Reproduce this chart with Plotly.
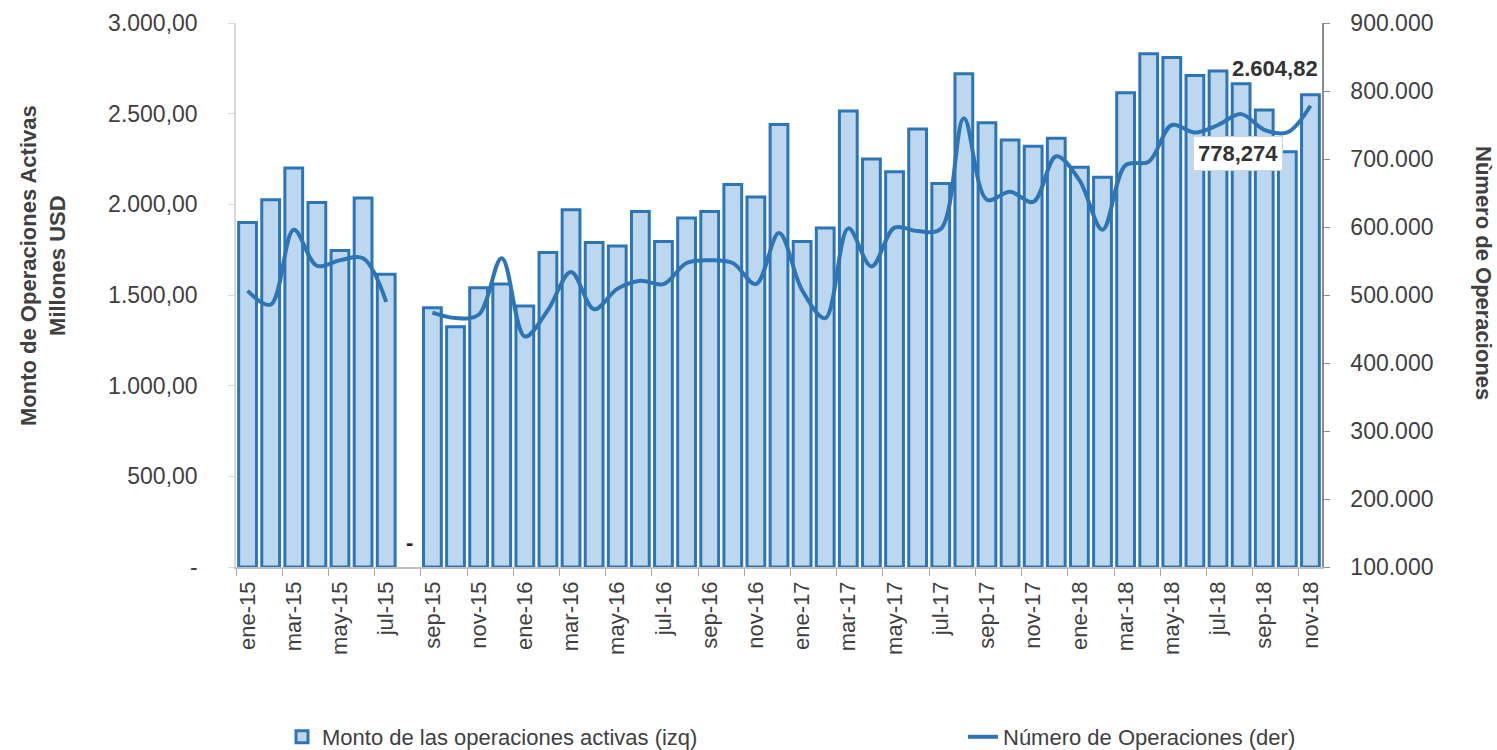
import plotly.graph_objects as go

categories = [
    "ene-15", "feb-15", "mar-15", "abr-15", "may-15", "jun-15", "jul-15", "ago-15",
    "sep-15", "oct-15", "nov-15", "dic-15",
    "ene-16", "feb-16", "mar-16", "abr-16", "may-16", "jun-16", "jul-16", "ago-16",
    "sep-16", "oct-16", "nov-16", "dic-16",
    "ene-17", "feb-17", "mar-17", "abr-17", "may-17", "jun-17", "jul-17", "ago-17",
    "sep-17", "oct-17", "nov-17", "dic-17",
    "ene-18", "feb-18", "mar-18", "abr-18", "may-18", "jun-18", "jul-18", "ago-18",
    "sep-18", "oct-18", "nov-18",
]

monto_millones_usd = [
    1900, 2025, 2200, 2010, 1745, 2035, 1615, 0,
    1430, 1325, 1540, 1560,
    1440, 1735, 1970, 1790, 1770, 1960, 1795, 1925,
    1960, 2110, 2040, 2440,
    1795, 1870, 2515, 2250, 2180, 2415, 2115, 2720,
    2450, 2355, 2320, 2365,
    2205, 2150, 2615, 2830, 2810, 2710, 2735, 2665,
    2520, 2290, 2604.82,
]

numero_operaciones = [
    506000, 486000, 596000, 543000, 551000, 554000, 490000, None,
    474000, 466000, 471000, 554000,
    439000, 478000, 534000, 479000, 509000, 521000, 516000, 547000,
    551000, 547000, 516000, 591000,
    507000, 466000, 598000, 542000, 599000, 594000, 597000, 760000,
    640000, 652000, 637000, 704000,
    669000, 596000, 691000, 696000, 750000, 739000, 750000, 766000,
    743000, 739000, 778274,
]

left_tickvals = [0, 500, 1000, 1500, 2000, 2500, 3000]
left_ticktext = ["-", "500,00", "1.000,00", "1.500,00", "2.000,00", "2.500,00", "3.000,00"]
right_tickvals = [100000, 200000, 300000, 400000, 500000, 600000, 700000, 800000, 900000]

FONT = "Liberation Sans, Arial, sans-serif"
TXT = "#404040"
BLUE = "#2E75B6"
LIGHT = "#BDD7EE"
FS = 22

W, H = 1497, 750
PL, PR, PT, PB = 236, 1322, 23, 567
PW, PH = PR - PL, PB - PT

# no outline for empty (zero) bars
bar_line_widths = [3 if v > 0 else 0 for v in monto_millones_usd]

fig = go.Figure()
fig.add_trace(go.Bar(
    x=categories, y=monto_millones_usd,
    name="Monto de las operaciones activas (izq)",
    marker=dict(color=LIGHT, line=dict(color=BLUE, width=bar_line_widths)),
    yaxis="y", legend="legend",
))
fig.add_trace(go.Scatter(
    x=categories, y=numero_operaciones,
    name="Número de Operaciones (der)",
    mode="lines",
    line=dict(color=BLUE, width=4, shape="spline", smoothing=1.0),
    connectgaps=False,
    yaxis="y2", legend="legend2",
))

legend_common = dict(
    orientation="h", xanchor="left", yanchor="middle",
    xref="container", yref="container",
    y=1 - 737 / H, font=dict(size=FS, color=TXT),
    bgcolor="rgba(0,0,0,0)",
)

fig.update_layout(
    width=W, height=H,
    margin=dict(l=PL, r=W - PR, t=PT, b=H - PB, autoexpand=False),
    paper_bgcolor="white", plot_bgcolor="white",
    separators=",.",
    font=dict(family=FONT, size=FS, color=TXT),
    bargap=0.23,
    showlegend=True,
    legend=dict(x=282 / W, **legend_common),
    legend2=dict(x=963 / W, **legend_common),
    xaxis=dict(
        type="category", tickangle=-90, dtick=2, tickson="boundaries",
        ticks="outside", ticklen=7, tickcolor="#A6A6A6",
        showline=True, linecolor="#BFBFBF", linewidth=1.5,
        showgrid=False, tickfont=dict(size=FS, color=TXT),
        automargin=False, ticklabelstandoff=4,
    ),
    yaxis=dict(
        range=[0, 3000], tickvals=left_tickvals, ticktext=left_ticktext,
        showline=True, linecolor="#D9D9D9", linewidth=1.5,
        ticks="outside", ticklen=6, tickcolor="#D9D9D9",
        showgrid=False, zeroline=False, tickfont=dict(size=23, color=TXT),
        automargin=False, ticklabelstandoff=26,
    ),
    yaxis2=dict(
        range=[100000, 900000], tickvals=right_tickvals, tickformat=",d",
        overlaying="y", side="right",
        showline=True, linecolor="#8C8C8C", linewidth=1.5,
        ticks="outside", ticklen=6, tickcolor="#8C8C8C",
        showgrid=False, zeroline=False, tickfont=dict(size=23, color=TXT),
        automargin=False, ticklabelstandoff=16,
    ),
)

# Axis titles
fig.add_annotation(
    text="<b>Monto de Operaciones Activas<br>Millones USD</b>",
    xref="paper", yref="paper", x=(43 - PL) / PW, y=(PB - 266) / PH,
    xanchor="center", yanchor="middle", textangle=-90, showarrow=False,
    font=dict(size=FS, color=TXT, family=FONT),
)
fig.add_annotation(
    text="<b>Nùmero de Operaciones</b>",
    xref="paper", yref="paper", x=(1484 - PL) / PW, y=(PB - 273) / PH,
    xanchor="center", yanchor="middle", textangle=90, showarrow=False,
    font=dict(size=FS, color=TXT, family=FONT),
)

# Data labels
ago_idx = categories.index("ago-15")
fig.add_annotation(
    text="<b>-</b>", x=categories[ago_idx], y=monto_millones_usd[ago_idx],
    xref="x", yref="y", yanchor="bottom", showarrow=False, yshift=10,
    font=dict(size=FS, color="#262626", family=FONT),
)
fig.add_annotation(
    text="<b>2.604,82</b>", x=categories[-1], y=monto_millones_usd[-1],
    xref="x", yref="y", xanchor="center", yanchor="bottom", showarrow=False,
    xshift=-35, yshift=12,
    font=dict(size=FS, color="#333333", family=FONT),
)
fig.add_annotation(
    text="<b>778,274</b>", x=categories[-1], y=numero_operaciones[-1],
    xref="x", yref="y2", xanchor="center", yanchor="middle", showarrow=False,
    xshift=-72, yshift=-48,
    bgcolor="white", bordercolor="#C9D6E6", borderwidth=1, borderpad=4,
    font=dict(size=FS, color="#333333", family=FONT),
)

fig.write_html(
    "out.html",
    config={"displayModeBar": False},
    post_script="document.body.style.margin='0';",
)
